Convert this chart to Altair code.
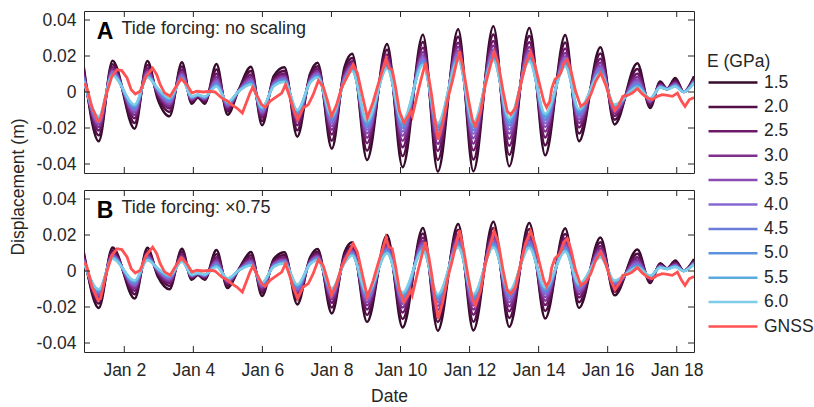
import altair as alt
import pandas as pd

# ---------------- data ----------------
E_LABELS = ["1.5", "2.0", "2.5", "3.0", "3.5", "4.0", "4.5", "5.0", "5.5", "6.0"]
E_WEIGHT = [1.0, 0.76, 0.57, 0.43, 0.32, 0.23, 0.155, 0.095, 0.045, 0.0]
E_COLORS = ["#360b2b", "#540f46", "#6d196a", "#80308c", "#8a4cb4",
            "#8668d2", "#6a7ddb", "#5a92dd", "#5aaade", "#7ecde8"]
GNSS_LABEL = "GNSS"
GNSS_COLOR = "#ff5252"

# day of January (1.0 = Jan 1 00:00) of the model key points, panel A
T_MODEL = [0.83, 1.26, 1.66, 2.30, 2.67, 2.97, 3.31, 3.67,
           3.95, 4.13, 4.33, 4.67, 4.99, 5.32, 5.67, 5.99,
           6.33, 6.64, 7.01, 7.38, 7.60, 8.01, 8.38, 8.60,
           9.03, 9.61, 10.06, 10.65, 11.08, 11.67, 12.11, 12.69,
           13.15, 13.73, 14.19, 14.77, 15.17, 15.79, 16.20, 16.86,
           17.23, 17.52, 17.72, 17.96, 18.20, 18.50]
# displacement (m), E = 1.5 GPa, no scaling
MODEL_E15 = [0.0135, -0.0274, 0.0174, -0.0204, 0.0172, -0.004, -0.0135, 0.0165,
             -0.0065, -0.003, -0.0065, 0.0155, -0.0126, 0.0015, 0.014, -0.0185,
             0.009, 0.0138, -0.0248, 0.010, 0.0163, -0.0315, 0.014, 0.0213,
             -0.0378, 0.0267, -0.0418, 0.0318, -0.0442, 0.0348, -0.0440, 0.0365,
             -0.0413, 0.0356, -0.0352, 0.0317, -0.0274, 0.0249, -0.018, 0.016,
             -0.0089, 0.0058, 0.0019, 0.0078, 0.0002, 0.0088]
# displacement (m), E = 6.0 GPa, no scaling
MODEL_E60 = [0.006, -0.0135, 0.009, -0.007, 0.008, 0.002, -0.0033, 0.0069,
             -0.0025, -0.0015, -0.0025, 0.003, -0.0055, 0.0005, 0.004, -0.0085,
             0.0032, 0.0055, -0.010, 0.005, 0.008, -0.013, 0.006, 0.0115,
             -0.016, 0.013, -0.016, 0.015, -0.0172, 0.0175, -0.017, 0.0175,
             -0.0145, 0.017, -0.012, 0.0142, -0.0095, 0.010, -0.007, 0.0025,
             -0.0035, 0.0025, 0.0015, 0.003, 0.0, 0.005]

T_GNSS = [0.84, 0.92, 1.07, 1.24, 1.31, 1.45, 1.64, 1.79, 1.93, 2.08,
          2.20, 2.32, 2.46, 2.63, 2.82, 2.94, 3.04, 3.17, 3.33, 3.47,
          3.65, 3.81, 3.96, 4.10, 4.29, 4.49, 4.63, 4.82, 4.97, 5.11,
          5.26, 5.42, 5.55, 5.64, 5.72, 5.83, 5.98, 6.08, 6.22, 6.36,
          6.56, 6.67, 6.77, 6.89, 7.02, 7.18, 7.33, 7.47, 7.62, 7.76,
          7.89, 8.00, 8.15, 8.29, 8.46, 8.63, 8.75, 8.89, 9.04, 9.21,
          9.35, 9.50, 9.58, 9.66, 9.76, 9.86, 9.97, 10.10, 10.22, 10.29,
          10.34, 10.42, 10.51, 10.63, 10.72, 10.82, 10.90, 10.99, 11.09, 11.21,
          11.35, 11.50, 11.61, 11.71, 11.83, 11.96, 12.08, 12.17, 12.32, 12.46,
          12.61, 12.71, 12.83, 12.97, 13.09, 13.19, 13.33, 13.48, 13.62, 13.77,
          13.89, 14.03, 14.15, 14.23, 14.32, 14.38, 14.47, 14.57, 14.64, 14.73,
          14.83, 14.93, 15.07, 15.22, 15.36, 15.51, 15.65, 15.80, 15.94, 16.09,
          16.21, 16.33, 16.44, 16.57, 16.71, 16.86, 17.00, 17.15, 17.29, 17.44,
          17.58, 17.73, 17.87, 18.02, 18.14, 18.24, 18.36, 18.50]
GNSS = [0.005, 0.0022, -0.0089, -0.0163, -0.0154, -0.0033, 0.0087, 0.0124, 0.0119, 0.0078,
        0.0013, -0.0011, 0.0004, 0.0087, 0.0133, 0.0096, 0.0041, -0.0006, -0.0024, 0.0022,
        0.0074, 0.0041, -0.0006, 0.0004, 0.0, 0.0004, 0.0, -0.0033, -0.0048, -0.007,
        -0.0089, -0.0117, -0.0052, -0.0006, 0.0026, -0.0015, -0.007, -0.0085, -0.0052, -0.0033,
        -0.0006, 0.0041, -0.0015, -0.0089, -0.0154, -0.0089, -0.007, -0.0015, 0.0063, 0.0031,
        -0.0052, -0.0135, -0.007, 0.0022, 0.0087, 0.0152, 0.0106, -0.0015, -0.0144, -0.0052,
        0.0041, 0.0133, 0.0185, 0.0133, 0.0124, 0.0022, -0.0107, -0.0172, -0.0135, -0.0107,
        -0.0135, -0.007, 0.0004, 0.0096, 0.0161, 0.0078, -0.0015, -0.0144, -0.0265, -0.0181,
        -0.0052, 0.0059, 0.0152, 0.0226, 0.0115, -0.0033, -0.0154, -0.0191, -0.0107, 0.0041,
        0.0152, 0.0222, 0.0161, 0.0004, -0.0107, -0.0126, -0.0089, 0.0041, 0.0152, 0.0222,
        0.0152, 0.0041, -0.0052, -0.0085, -0.0052, 0.0019, 0.0069, 0.0087, 0.0106, 0.0161,
        0.018, 0.0124, 0.0004, -0.008, -0.0061, -0.0015, 0.0059, 0.0106, 0.0041, -0.0052,
        -0.0104, -0.007, -0.0024, -0.0019, -0.0006, 0.0019, -0.0011, -0.0033, -0.0043, -0.0024,
        -0.0015, -0.0019, -0.0024, -0.0006, -0.0052, -0.008, -0.0043, -0.003]

PANELS = ["A", "B"]
PANEL_FORCING = [1.0, 0.75]          # tide forcing factor stated in each panel
PANEL_TEXT = ["Tide forcing: no scaling", "Tide forcing: \u00d70.75"]
X_TICKS = [2, 4, 6, 8, 10, 12, 14, 16, 18]
Y_TICKS = [-0.04, -0.02, 0, 0.02, 0.04]
X_DOMAIN = [0.833, 18.5]
Y_DOMAIN = [-0.045, 0.045]

# ---------------- tables ----------------
model_rows = []
for p, f in zip(PANELS, PANEL_FORCING):
    for lab, w in zip(E_LABELS, E_WEIGHT):
        for t, hi, lo in zip(T_MODEL, MODEL_E15, MODEL_E60):
            model_rows.append({"panel": p, "series": lab, "t": t,
                               "disp": f * (lo + w * (hi - lo))})
model_df = pd.DataFrame(model_rows)
gnss_df = pd.DataFrame({"t": T_GNSS, "disp": GNSS, "series": GNSS_LABEL})
xt_df = pd.DataFrame({"t": X_TICKS})
yt_df = pd.DataFrame({"disp": Y_TICKS})

# ---------------- style ----------------
FONT = "Liberation Sans"
INK = "#262626"
W, H = 610, 162
GAP = 17
TICK = 6

x_scale = alt.Scale(domain=X_DOMAIN, nice=False, zero=False)
y_scale = alt.Scale(domain=Y_DOMAIN, nice=False, zero=False)
color_scale = alt.Scale(domain=E_LABELS + [GNSS_LABEL], range=E_COLORS + [GNSS_COLOR])
legend = alt.Legend(title="E (GPa)", orient="none", legendX=623, legendY=42,
                    symbolType="stroke", symbolSize=2400, symbolStrokeWidth=2.5,
                    clipHeight=18, rowPadding=6.4, labelOffset=5, titlePadding=3,
                    padding=0, labelFontSize=17.5, titleFontSize=17.5,
                    titleFontWeight="normal", labelFont=FONT, titleFont=FONT,
                    labelColor=INK, titleColor=INK, labelLimit=200)

y_label_expr = ("datum.value == 0 ? '0' : (datum.value < 0 ? '-' : '') + "
                "format(abs(datum.value), '.2f')")


def panel(i):
    pid = PANELS[i]
    bottom = i == len(PANELS) - 1
    x_axis = alt.Axis(values=X_TICKS, labelExpr="'Jan ' + datum.value", ticks=False,
                      domain=False, grid=False, title="Date" if bottom else None,
                      labels=bottom, labelPadding=9, titlePadding=9)
    y_axis = alt.Axis(values=Y_TICKS, labelExpr=y_label_expr, ticks=False, domain=False,
                      grid=False, labelPadding=8,
                      title="Displacement (m)" if i == 0 else None,
                      titleX=-57, titleY=(2 * H + GAP) / 2 + 5)

    x_enc = alt.X("t:Q", scale=x_scale, axis=x_axis)
    y_enc = alt.Y("disp:Q", scale=y_scale, axis=y_axis)

    models = alt.Chart(model_df[model_df["panel"] == pid]).mark_line(
        strokeWidth=2.5, interpolate="monotone", clip=True
    ).encode(x=x_enc, y=y_enc,
             color=alt.Color("series:N", scale=color_scale, legend=legend))

    obs = alt.Chart(gnss_df).mark_line(strokeWidth=2.8, clip=True).encode(
        x=x_enc, y=y_enc,
        color=alt.Color("series:N", scale=color_scale, legend=legend))

    rule = dict(color=INK, strokeWidth=1)
    t_bot = alt.Chart(xt_df).mark_rule(**rule).encode(x=x_enc, y=alt.value(H), y2=alt.value(H - TICK))
    t_top = alt.Chart(xt_df).mark_rule(**rule).encode(x=x_enc, y=alt.value(0), y2=alt.value(TICK))
    t_lft = alt.Chart(yt_df).mark_rule(**rule).encode(y=y_enc, x=alt.value(0), x2=alt.value(TICK))
    t_rgt = alt.Chart(yt_df).mark_rule(**rule).encode(y=y_enc, x=alt.value(W), x2=alt.value(W - TICK))

    letter = alt.Chart(pd.DataFrame({"t": [1.2], "disp": [0.0294], "s": [pid]})).mark_text(
        align="left", baseline="alphabetic", font=FONT, fontSize=23, fontWeight="bold",
        color="#000000"
    ).encode(x=x_enc, y=y_enc, text="s:N")
    caption = alt.Chart(pd.DataFrame({"t": [1.92], "disp": [0.0324], "s": [PANEL_TEXT[i]]})).mark_text(
        align="left", baseline="alphabetic", font=FONT, fontSize=18, color=INK
    ).encode(x=x_enc, y=y_enc, text="s:N")

    return alt.layer(models, obs, t_bot, t_top, t_lft, t_rgt, letter, caption).properties(
        width=W, height=H)


chart = alt.vconcat(panel(0), panel(1), spacing=GAP, bounds="flush").properties(
    padding={"left": 8, "top": 10, "right": 0, "bottom": 2}
).configure_view(stroke=INK, strokeWidth=1).configure_axis(
    labelFont=FONT, labelFontSize=17.5, labelColor=INK,
    titleFont=FONT, titleFontSize=17.5, titleFontWeight="normal", titleColor=INK
)

chart.save("out.html", embed_options={"renderer": "svg", "actions": False})
